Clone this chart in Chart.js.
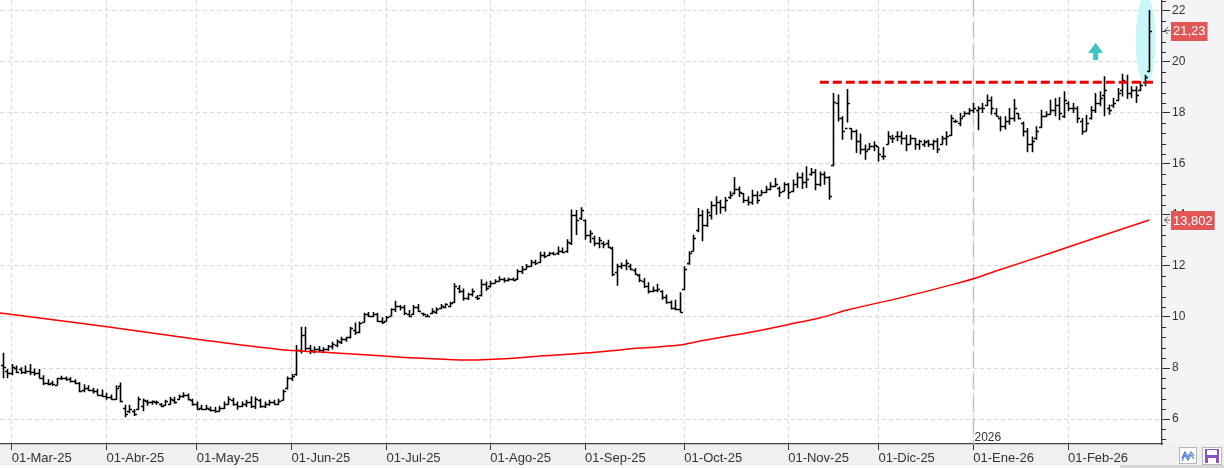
<!DOCTYPE html>
<html>
<head>
<meta charset="utf-8">
<title>Cotización diaria</title>
<style>
  html, body { margin: 0; padding: 0; background: #fff; }
  canvas { display: block; }
</style>
</head>
<body>
<canvas id="grafico" width="1224" height="468"></canvas>
<script src="https://cdn.jsdelivr.net/npm/chart.js@4.4.1/dist/chart.umd.min.js"></script>
<script>
// indice 0 = 03-Mar-25, las dos primeras barras son de febrero
var firstBar = -2;

var opens = [
  8.1, 7.9, 7.8, 8.0, 7.95, 7.85, 7.9, 7.85, 7.8, 7.6, 7.4, 7.4,
  7.35, 7.6, 7.6, 7.55, 7.5, 7.4, 7.15, 7.2, 7.15, 7.1,
  6.95, 6.9, 6.85, 6.8, 7.3, 6.45, 6.3, 6.3, 6.4, 6.5,
  6.7, 6.65, 6.68, 6.6, 6.55, 6.6, 6.75, 6.8, 6.9, 6.95,
  6.75, 6.6, 6.45, 6.4, 6.4, 6.35, 6.3, 6.45, 6.6, 6.75,
  6.6, 6.5, 6.6, 6.65, 6.5, 6.75, 6.5, 6.6, 6.65, 6.6,
  6.75, 7.2, 7.6, 7.75, 8.7, 9.3, 8.8, 8.65, 8.75, 8.7,
  8.75, 8.85, 8.9, 9.0, 9.15, 9.2, 9.5, 9.4, 9.8, 10.1,
  10.05, 10.1, 9.85, 9.85, 10.05, 10.3, 10.45, 10.4, 10.1, 10.1,
  10.4, 10.15, 10.05, 10.15, 10.2, 10.35, 10.4, 10.45, 10.6, 11.15,
  11.0, 10.75, 10.9, 10.8, 10.85, 11.3, 11.2, 11.35, 11.4, 11.5,
  11.45, 11.5, 11.5, 11.8, 11.9, 12.0, 12.15, 12.15, 12.45, 12.45,
  12.5, 12.5, 12.6, 12.6, 12.9, 14.0, 13.9, 13.8, 13.2, 13.1,
  12.9, 12.9, 12.9, 12.7, 11.75, 12.0, 12.05, 12.0, 11.85, 11.65,
  11.4, 11.2, 11.0, 11.05, 11.0, 10.8, 10.6, 10.35, 10.3, 11.1,
  12.1, 12.6, 13.4, 14.0, 13.6, 14.0, 14.4, 14.5, 14.3, 14.7,
  14.85, 15.0, 14.85, 14.6, 14.5, 14.8, 14.8, 14.9, 15.0, 15.15,
  15.05, 14.95, 15.2, 14.95, 15.2, 15.5, 15.3, 15.6, 15.7, 15.2,
  15.6, 15.5, 15.95, 18.4, 17.8, 17.4, 17.4, 17.3, 16.9, 16.6,
  16.6, 16.7, 16.7, 16.3, 16.8, 17.0, 17.1, 17.1, 17.0, 16.8,
  17.0, 16.8, 16.8, 16.9, 16.8, 16.9, 16.8, 17.0, 17.15, 17.7,
  17.6, 17.9, 18.0, 18.1, 18.1, 18.2, 18.3, 18.5, 18.0, 17.8,
  17.5, 17.7, 17.8, 18.0, 17.6, 17.3, 16.8, 17.0, 17.45, 17.9,
  17.95, 18.1, 18.3, 17.9, 18.4, 18.2, 18.2, 17.7, 17.3, 17.8,
  18.1, 18.4, 18.7, 18.2, 18.3, 18.5, 18.9, 19.2, 18.8, 18.9,
  18.9, 19.2, 19.65
];
var highs = [
  8.6, 7.96, 8.16, 8.1, 8.03, 8.1, 8.16, 7.98, 7.96, 7.72, 7.56, 7.5,
  7.62, 7.7, 7.67, 7.65, 7.56, 7.45, 7.36, 7.32, 7.23, 7.19,
  7.16, 7.03, 6.96, 7.32, 7.43, 6.56, 6.56, 6.39, 6.87, 6.8,
  6.76, 6.73, 6.73, 6.63, 6.76, 6.87, 6.87, 6.96, 7.05, 7.0,
  6.79, 6.69, 6.56, 6.56, 6.49, 6.47, 6.52, 6.69, 6.89, 6.83,
  6.69, 6.69, 6.76, 6.89, 6.87, 6.79, 6.69, 6.76, 6.76, 6.79,
  7.16, 7.67, 7.76, 8.9, 9.62, 9.62, 8.9, 8.84, 8.86, 8.81,
  8.9, 9.03, 9.12, 9.23, 9.23, 9.62, 9.78, 9.82, 10.17, 10.2,
  10.2, 10.17, 9.99, 10.04, 10.34, 10.64, 10.47, 10.47, 10.27, 10.47,
  10.51, 10.17, 10.12, 10.34, 10.38, 10.51, 10.54, 10.6, 11.32, 11.25,
  11.12, 10.95, 11.12, 10.86, 11.48, 11.39, 11.42, 11.48, 11.6, 11.55,
  11.55, 11.55, 11.87, 12.0, 12.08, 12.24, 12.24, 12.56, 12.56, 12.56,
  12.56, 12.76, 12.73, 13.05, 14.22, 14.2, 14.3, 13.82, 13.4, 13.19,
  13.14, 12.97, 13.03, 12.75, 12.09, 12.14, 12.25, 12.09, 11.92, 11.7,
  11.53, 11.36, 11.2, 11.3, 11.05, 10.88, 10.65, 10.68, 10.97, 11.99,
  12.58, 13.23, 14.27, 14.2, 14.24, 14.54, 14.73, 14.6, 14.71, 14.93,
  15.49, 15.12, 14.86, 14.73, 14.99, 14.93, 14.99, 15.15, 15.28, 15.45,
  15.12, 15.28, 15.25, 15.39, 15.67, 15.67, 15.91, 15.84, 15.8, 15.71,
  15.71, 15.52, 18.78, 18.72, 17.87, 18.94, 17.4, 17.35, 17.2, 16.76,
  16.82, 16.89, 16.67, 16.67, 17.28, 17.15, 17.28, 17.28, 17.15, 17.15,
  17.02, 16.95, 16.95, 16.95, 16.95, 17.02, 17.11, 17.28, 17.93, 17.74,
  18.0, 18.07, 18.2, 18.39, 18.26, 18.39, 18.72, 18.65, 18.2, 17.87,
  17.87, 18.2, 18.55, 18.0, 17.67, 17.41, 17.08, 17.48, 18.13, 18.07,
  18.52, 18.59, 18.63, 18.85, 18.46, 18.39, 18.26, 17.8, 17.93, 18.26,
  18.78, 18.85, 19.44, 18.33, 18.59, 18.98, 19.54, 19.5, 19.05, 19.05,
  19.24, 19.5, 22.04
];
var lows = [
  7.6, 7.6, 7.72, 7.8, 7.76, 7.76, 7.72, 7.7, 7.6, 7.32, 7.32, 7.3,
  7.32, 7.53, 7.5, 7.43, 7.36, 7.05, 7.05, 7.1, 7.0, 6.92,
  6.87, 6.76, 6.76, 6.76, 6.65, 6.07, 6.23, 6.12, 6.36, 6.3,
  6.52, 6.56, 6.56, 6.47, 6.52, 6.56, 6.6, 6.76, 6.83, 6.73,
  6.52, 6.36, 6.36, 6.36, 6.29, 6.25, 6.29, 6.39, 6.56, 6.52,
  6.36, 6.47, 6.47, 6.43, 6.39, 6.43, 6.43, 6.52, 6.56, 6.56,
  6.73, 7.16, 7.49, 7.7, 8.57, 8.64, 8.55, 8.58, 8.64, 8.58,
  8.68, 8.73, 8.81, 8.94, 9.03, 9.16, 9.29, 9.36, 9.78, 10.0,
  9.99, 9.8, 9.73, 9.82, 10.04, 10.2, 10.25, 10.08, 9.99, 10.08,
  10.2, 10.04, 9.99, 10.12, 10.12, 10.3, 10.34, 10.38, 10.54, 10.93,
  10.64, 10.67, 10.8, 10.67, 10.8, 11.03, 11.16, 11.32, 11.39, 11.35,
  11.39, 11.42, 11.45, 11.69, 11.87, 11.97, 12.04, 12.13, 12.3, 12.39,
  12.43, 12.43, 12.5, 12.52, 12.82, 13.22, 13.8, 13.03, 12.9, 12.77,
  12.7, 12.7, 12.7, 11.6, 11.23, 11.88, 11.83, 11.83, 11.66, 11.36,
  11.14, 10.92, 10.97, 10.97, 10.68, 10.52, 10.29, 10.26, 10.18, 11.05,
  12.05, 12.58, 13.32, 12.97, 13.53, 13.82, 14.01, 14.05, 14.14, 14.63,
  14.8, 14.71, 14.47, 14.37, 14.4, 14.44, 14.76, 14.86, 14.97, 15.1,
  14.71, 14.93, 14.63, 14.89, 15.06, 15.02, 15.06, 15.54, 14.97, 15.12,
  15.19, 14.6, 15.91, 17.67, 16.95, 17.63, 16.95, 16.43, 16.37, 16.17,
  16.56, 16.5, 16.1, 16.17, 16.76, 16.82, 16.89, 16.76, 16.5, 16.76,
  16.56, 16.56, 16.67, 16.67, 16.56, 16.43, 16.76, 16.72, 17.11, 17.61,
  17.48, 17.87, 17.93, 18.0, 17.32, 18.0, 18.26, 17.93, 17.87, 17.28,
  17.35, 17.54, 17.67, 17.74, 17.08, 16.46, 16.46, 16.95, 17.41, 17.84,
  17.93, 17.87, 17.71, 17.8, 18.07, 18.0, 17.61, 17.15, 17.28, 17.74,
  18.0, 18.26, 17.87, 17.93, 18.2, 18.46, 18.65, 18.55, 18.59, 18.39,
  18.85, 19.05, 19.62
];
var closes = [
  8.05, 7.8, 8.05, 7.85, 7.85, 7.9, 7.85, 7.8, 7.62, 7.4, 7.38, 7.38,
  7.6, 7.62, 7.55, 7.5, 7.4, 7.1, 7.2, 7.15, 7.1, 6.95,
  6.9, 6.85, 6.8, 7.2, 6.7, 6.2, 6.4, 6.2, 6.8, 6.75,
  6.65, 6.7, 6.66, 6.5, 6.7, 6.8, 6.65, 6.9, 6.95, 6.8,
  6.6, 6.4, 6.4, 6.45, 6.35, 6.3, 6.45, 6.6, 6.8, 6.6,
  6.5, 6.6, 6.65, 6.5, 6.8, 6.5, 6.6, 6.65, 6.6, 6.7,
  7.1, 7.6, 7.7, 8.7, 9.3, 8.8, 8.7, 8.75, 8.7, 8.75,
  8.85, 8.95, 9.05, 9.15, 9.2, 9.55, 9.4, 9.75, 10.1, 10.05,
  10.1, 9.85, 9.8, 10.0, 10.3, 10.45, 10.4, 10.15, 10.05, 10.4,
  10.25, 10.1, 10.05, 10.25, 10.3, 10.45, 10.5, 10.55, 11.2, 11.0,
  10.75, 10.9, 11.0, 10.75, 11.3, 11.15, 11.35, 11.4, 11.5, 11.45,
  11.5, 11.45, 11.8, 11.9, 12.0, 12.15, 12.1, 12.45, 12.4, 12.5,
  12.48, 12.6, 12.55, 12.95, 14.0, 13.8, 14.2, 13.2, 13.3, 12.9,
  13.0, 12.85, 12.75, 11.7, 12.0, 12.05, 12.1, 11.9, 11.7, 11.45,
  11.2, 11.0, 11.05, 11.1, 10.8, 10.6, 10.35, 10.3, 10.2, 11.9,
  12.5, 13.1, 14.0, 13.6, 14.1, 14.4, 14.5, 14.3, 14.6, 14.8,
  15.0, 14.9, 14.6, 14.5, 14.8, 14.6, 14.9, 15.0, 15.15, 15.2,
  14.9, 15.2, 14.9, 15.2, 15.5, 15.3, 15.4, 15.7, 15.2, 15.6,
  15.5, 14.75, 18.45, 17.8, 17.3, 18.4, 17.3, 16.9, 16.6, 16.5,
  16.7, 16.75, 16.4, 16.3, 17.1, 17.0, 17.1, 17.0, 16.8, 17.0,
  16.8, 16.9, 16.85, 16.8, 16.9, 16.6, 17.0, 17.1, 17.8, 17.7,
  17.8, 18.0, 18.1, 18.2, 18.2, 18.2, 18.5, 18.2, 17.9, 17.5,
  17.7, 17.8, 18.2, 17.8, 17.3, 16.8, 16.9, 17.3, 17.9, 17.95,
  18.1, 18.3, 18.0, 18.5, 18.2, 18.2, 17.8, 17.3, 17.6, 18.1,
  18.4, 18.6, 18.9, 18.1, 18.4, 18.8, 19.3, 18.8, 18.9, 18.7,
  19.1, 19.4, 21.23
];

// media movil
var maIdx = [-2.6, 9.6, 21.1, 40.6, 59.4, 72.7, 81.6, 91.1, 100.9, 111.1, 117, 128.1, 139.2,
  148, 152.5, 163.6, 174.6, 179.1, 185.7, 196.8, 207.9, 213, 218.9, 230, 240, 252];
var maVal = [10.16, 9.88, 9.62, 9.14, 8.73, 8.58, 8.48, 8.38, 8.31, 8.38, 8.47, 8.6, 8.78,
  8.9, 9.06, 9.4, 9.8, 9.97, 10.3, 10.75, 11.25, 11.5, 11.85, 12.5, 13.1, 13.8];

var monthIdx = [0, 21, 41, 62, 83, 106, 127, 149, 172, 192, 213, 234];
var monthLabels = ['01-Mar-25', '01-Abr-25', '01-May-25', '01-Jun-25', '01-Jul-25', '01-Ago-25',
  '01-Sep-25', '01-Oct-25', '01-Nov-25', '01-Dic-25', '01-Ene-26', '01-Feb-26'];

var resistIdx = [179, 252.8];
var resistVal = [19.2, 19.2];
var priceTags = [21.23, 13.802];
var glowIdx = [249.0, 253.4];
var glowVal = [19.1, 22.6];
var arrowIdx = 240.1;
var arrowVal = [20.08, 20.75];
var yearIdx = 213;
var yearLabel = '2026';

var fontNarrow = '"Liberation Sans Narrow", "Liberation Sans", Arial, sans-serif';

function isMajor(v) {
    return Math.abs(v / 2 - Math.round(v / 2)) < 1e-6;
}

var fondo = {
    id: 'fondo',
    beforeDraw: function (chart) {
        var ctx = chart.ctx, a = chart.chartArea;
        ctx.save();
        ctx.fillStyle = '#ffffff';
        ctx.fillRect(0, 0, chart.width, chart.height);
        ctx.fillStyle = '#f4f4f6';
        ctx.fillRect(a.right, 0, chart.width - a.right, a.bottom);
        ctx.fillStyle = '#f0f0f0';
        ctx.fillRect(0, a.bottom, chart.width, chart.height - a.bottom);
        ctx.fillStyle = '#fbfbfb';
        ctx.fillRect(0, chart.height - 3, chart.width, 3);
        ctx.fillStyle = '#d6d6d6';
        ctx.fillRect(1120, chart.height - 3, chart.width - 1120, 3);
        ctx.restore();
    }
};

var barras = {
    id: 'barras',
    beforeDatasetsDraw: function (chart) {
        var ctx = chart.ctx, a = chart.chartArea;
        var x = chart.scales.x, y = chart.scales.y;
        ctx.save();
        ctx.beginPath();
        ctx.rect(a.left, a.top, a.width, a.height);
        ctx.clip();

        // marca cian del ultimo dia
        var ex1 = x.getPixelForValue(glowIdx[0]), ex2 = x.getPixelForValue(glowIdx[1]);
        var ey1 = y.getPixelForValue(glowVal[1]), ey2 = y.getPixelForValue(glowVal[0]);
        ctx.fillStyle = '#c8f7fa';
        ctx.beginPath();
        ctx.ellipse((ex1 + ex2) / 2, (ey1 + ey2) / 2, (ex2 - ex1) / 2, (ey2 - ey1) / 2, 0, 0, Math.PI * 2);
        ctx.fill();

        // linea del cambio de año
        var yx = Math.round(x.getPixelForValue(yearIdx)) + 0.5;
        ctx.strokeStyle = '#c4c4c4';
        ctx.lineWidth = 1.5;
        ctx.setLineDash([16, 6]);
        ctx.beginPath();
        ctx.moveTo(yx, a.top);
        ctx.lineTo(yx, a.bottom);
        ctx.stroke();
        ctx.setLineDash([]);
        ctx.fillStyle = '#333';
        ctx.font = '12px ' + fontNarrow;
        ctx.textBaseline = 'alphabetic';
        ctx.fillText(yearLabel, yx + 1, a.bottom - 3);

        // barras OHLC
        ctx.strokeStyle = '#000';
        ctx.lineWidth = 1.6;
        ctx.beginPath();
        for (var k = 0; k < highs.length; k++) {
            var px = Math.round(x.getPixelForValue(firstBar + k)) + 0.5;
            var hy = y.getPixelForValue(highs[k]);
            var ly = y.getPixelForValue(lows[k]);
            var oy = Math.round(y.getPixelForValue(opens[k])) + 0.5;
            var cy = Math.round(y.getPixelForValue(closes[k])) + 0.5;
            ctx.moveTo(px, hy);
            ctx.lineTo(px, ly);
            ctx.moveTo(px - 2.5, oy);
            ctx.lineTo(px, oy);
            ctx.moveTo(px, cy);
            ctx.lineTo(px + 2.5, cy);
        }
        ctx.stroke();

        // flecha cian
        var ax = x.getPixelForValue(arrowIdx);
        var at = y.getPixelForValue(arrowVal[1]), ab = y.getPixelForValue(arrowVal[0]);
        var mid = at + (ab - at) * 0.6;
        ctx.fillStyle = '#3fc4c4';
        ctx.beginPath();
        ctx.moveTo(ax, at);
        ctx.lineTo(ax + 7.5, mid);
        ctx.lineTo(ax + 2.5, mid);
        ctx.lineTo(ax + 2.5, ab);
        ctx.lineTo(ax - 2.5, ab);
        ctx.lineTo(ax - 2.5, mid);
        ctx.lineTo(ax - 7.5, mid);
        ctx.closePath();
        ctx.fill();
        ctx.restore();
    },
    afterDraw: function (chart) {
        var ctx = chart.ctx, a = chart.chartArea;
        var y = chart.scales.y;
        ctx.save();
        // ticks menores del eje de precios
        ctx.strokeStyle = '#333';
        ctx.lineWidth = 1;
        ctx.beginPath();
        y.ticks.forEach(function (t) {
            if (isMajor(t.value)) return;
            var py = Math.round(y.getPixelForValue(t.value)) + 0.5;
            ctx.moveTo(a.right, py);
            ctx.lineTo(a.right + 4, py);
        });
        ctx.stroke();

        // etiquetas de precio
        ctx.font = '13px ' + fontNarrow;
        ctx.textBaseline = 'middle';
        priceTags.forEach(function (v) {
            var py = y.getPixelForValue(v);
            var txt = String(v).replace('.', ',');
            var w = ctx.measureText(txt).width + 4;
            ctx.fillStyle = '#e25656';
            ctx.fillRect(a.right + 9, Math.round(py) - 9, w, 19);
            ctx.fillStyle = '#ffffff';
            ctx.fillText(txt, a.right + 11, py + 1);
            ctx.strokeStyle = '#555';
            ctx.beginPath();
            ctx.moveTo(a.right + 6, py - 3.5);
            ctx.lineTo(a.right + 2.5, py);
            ctx.lineTo(a.right + 6, py + 3.5);
            ctx.moveTo(a.right + 2.5, py);
            ctx.lineTo(a.right + 8, py);
            ctx.stroke();
        });

        // botones de la esquina
        ctx.fillStyle = '#ffffff';
        ctx.strokeStyle = '#b8b8b8';
        ctx.fillRect(1179.5, 447.5, 17, 16);
        ctx.strokeRect(1179.5, 447.5, 17, 16);
        ctx.strokeStyle = '#4a7fd0';
        ctx.lineWidth = 1.2;
        ctx.beginPath();
        ctx.moveTo(1182, 458); ctx.lineTo(1185, 452); ctx.lineTo(1188, 457); ctx.lineTo(1191, 452); ctx.lineTo(1194, 456);
        ctx.moveTo(1182, 461); ctx.lineTo(1185, 455); ctx.lineTo(1188, 460); ctx.lineTo(1191, 455); ctx.lineTo(1194, 459);
        ctx.stroke();
        ctx.fillStyle = '#ffffff';
        ctx.strokeStyle = '#b8b8b8';
        ctx.lineWidth = 1;
        ctx.fillRect(1202.5, 447.5, 19, 17);
        ctx.strokeRect(1202.5, 447.5, 19, 17);
        ctx.fillStyle = '#8a52c8';
        ctx.fillRect(1205, 449, 14, 14);
        ctx.fillStyle = '#ffffff';
        ctx.fillRect(1207, 450, 10, 5);
        ctx.fillRect(1208, 458, 8, 5);
        ctx.restore();
    }
};

new Chart(document.getElementById('grafico'), {
    type: 'scatter',
    data: {
        datasets: [
            {
                data: maIdx.map(function (v, k) { return { x: v, y: maVal[k] }; }),
                showLine: true,
                borderColor: '#ff0000',
                borderWidth: 1.5,
                pointRadius: 0,
                cubicInterpolationMode: 'monotone'
            },
            {
                data: resistIdx.map(function (v, k) { return { x: v, y: resistVal[k] }; }),
                showLine: true,
                borderColor: '#ee0000',
                borderWidth: 3,
                borderDash: [9, 4],
                pointRadius: 0
            }
        ]
    },
    options: {
        responsive: false,
        devicePixelRatio: 1,
        animation: false,
        events: [],
        layout: { padding: 0 },
        plugins: { legend: { display: false }, tooltip: { enabled: false } },
        scales: {
            x: {
                type: 'linear',
                min: -2.59,
                max: 254.8,
                afterBuildTicks: function (s) {
                    s.ticks = monthIdx.map(function (v) { return { value: v }; });
                },
                afterFit: function (s) {
                    s.height = 24;
                    s.paddingLeft = 0;
                    s.paddingRight = 0;
                },
                ticks: {
                    autoSkip: false,
                    maxRotation: 0,
                    align: 'start',
                    padding: 1,
                    color: '#333',
                    font: { family: fontNarrow, size: 13 },
                    callback: function (v, i) { return monthLabels[i]; }
                },
                grid: { color: '#d9d9d9', lineWidth: 1, tickLength: 6, tickColor: '#333' },
                border: { color: '#404040', width: 1.3, dash: [4, 3] }
            },
            y: {
                position: 'right',
                min: 5.02,
                max: 22.43,
                afterFit: function (s) {
                    s.width = 62;
                    s.paddingTop = 0;
                    s.paddingBottom = 0;
                },
                ticks: {
                    stepSize: 0.4,
                    autoSkip: false,
                    includeBounds: false,
                    padding: 2,
                    color: '#333',
                    font: { family: fontNarrow, size: 12 },
                    callback: function (v) { return isMajor(v) ? String(Math.round(v)) : ''; }
                },
                grid: {
                    lineWidth: 1,
                    tickLength: 8,
                    color: function (c) { return c.tick && isMajor(c.tick.value) ? '#d9d9d9' : 'rgba(0,0,0,0)'; },
                    tickColor: function (c) { return c.tick && isMajor(c.tick.value) ? '#333' : 'rgba(0,0,0,0)'; }
                },
                border: { color: '#404040', width: 1.3, dash: [4, 3] }
            }
        }
    },
    plugins: [fondo, barras]
});
</script>
</body>
</html>
